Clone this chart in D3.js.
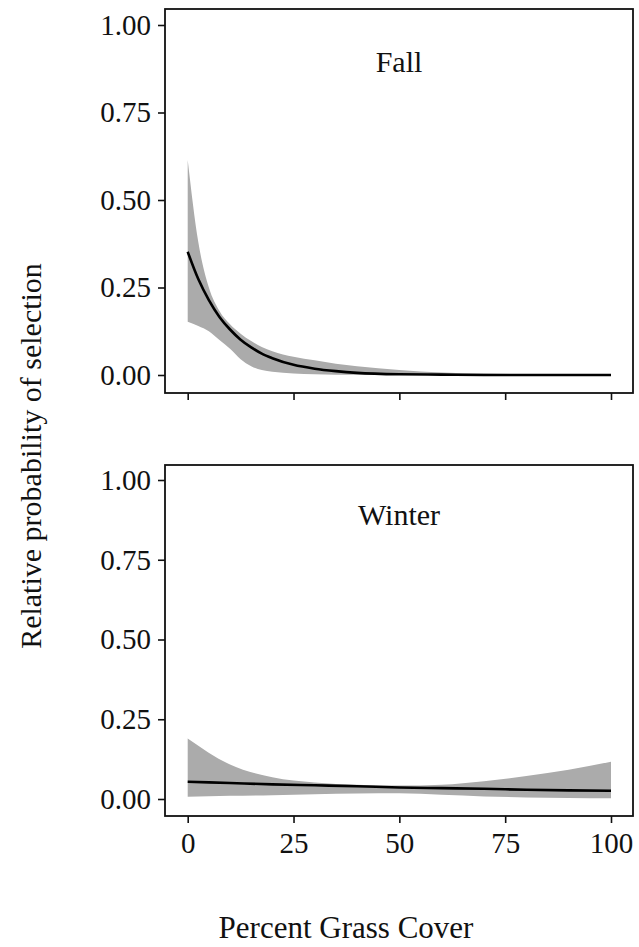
<!DOCTYPE html>
<html>
<head>
<meta charset="utf-8">
<script src="https://cdn.jsdelivr.net/npm/d3@7"></script>
<style>
  body { margin: 0; background: #fff; }
  svg { display: block; font-family: "Liberation Serif", "Times New Roman", serif; }
</style>
</head>
<body>
<div id="visualization"></div>
<script>
// Fall: fitted relative probability and 95% band vs percent grass cover
var fallGrass = [0, 2.5, 5, 7.5, 10, 12.5, 15, 17.5, 20, 25, 30, 35, 40, 50, 60, 70, 80, 90, 100];
var fallFit   = [0.352, 0.274, 0.214, 0.166, 0.130, 0.101, 0.079, 0.061, 0.048, 0.029, 0.018, 0.011, 0.006, 0.002, 0.001, 0, 0, 0, 0];
var fallUpper = [0.614, 0.380, 0.250, 0.183, 0.145, 0.118, 0.097, 0.080, 0.068, 0.052, 0.042, 0.032, 0.025, 0.014, 0.007, 0.004, 0.002, 0.001, 0];
var fallLower = [0.152, 0.140, 0.125, 0.100, 0.075, 0.045, 0.025, 0.014, 0.009, 0.004, 0.002, 0.001, 0.001, 0, 0, 0, 0, 0, 0];

// Winter
var winterGrass = [0, 10, 20, 30, 40, 50, 60, 70, 80, 90, 100];
var winterFit   = [0.054, 0.050, 0.046, 0.043, 0.040, 0.036, 0.034, 0.032, 0.029, 0.027, 0.026];
var winterUpper = [0.190, 0.108, 0.068, 0.052, 0.045, 0.042, 0.045, 0.056, 0.072, 0.092, 0.117];
var winterLower = [0.007, 0.010, 0.012, 0.015, 0.017, 0.018, 0.013, 0.008, 0.005, 0.003, 0.002];

var xTicks = [0, 25, 50, 75, 100];
var yTicks = [0, 0.25, 0.5, 0.75, 1];

var width = 639;
var height = 947;

var svg = d3.select('#visualization').append('svg')
  .attr('width', width)
  .attr('height', height);

svg.append('rect').attr('width', width).attr('height', height).attr('fill', '#fff');

var x = d3.scaleLinear().domain([0, 100]).range([187.7, 611]);

var panels = [
  { title: 'Fall', grass: fallGrass, fit: fallFit, upper: fallUpper, lower: fallLower,
    box: [9, 393], yRange: [375, 25], titleY: 72, labels: false },
  { title: 'Winter', grass: winterGrass, fit: winterFit, upper: winterUpper, lower: winterLower,
    box: [465, 816], yRange: [799, 480], titleY: 525, labels: true }
];

panels.forEach(function(p) {
  var y = d3.scaleLinear().domain([0, 1]).range(p.yRange);
  var g = svg.append('g');

  var rows = p.grass.map(function(v, i) {
    return { x: v, fit: p.fit[i], hi: p.upper[i], lo: p.lower[i] };
  });

  var band = d3.area()
    .x(function(d) { return x(d.x); })
    .y0(function(d) { return y(d.lo); })
    .y1(function(d) { return y(d.hi); })
    .curve(d3.curveMonotoneX);

  var line = d3.line()
    .x(function(d) { return x(d.x); })
    .y(function(d) { return y(d.fit); })
    .curve(d3.curveMonotoneX);

  g.append('path').datum(rows)
    .attr('d', band)
    .attr('fill', '#ababab');

  g.append('path').datum(rows)
    .attr('d', line)
    .attr('fill', 'none')
    .attr('stroke', '#000')
    .attr('stroke-width', 2.6);

  // panel border
  g.append('rect')
    .attr('x', 165).attr('y', p.box[0])
    .attr('width', 633 - 165).attr('height', p.box[1] - p.box[0])
    .attr('fill', 'none')
    .attr('stroke', '#111')
    .attr('stroke-width', 1.8);

  var yAxis = g.append('g')
    .attr('transform', 'translate(165,0)')
    .call(d3.axisLeft(y).tickValues(yTicks).tickFormat(d3.format('.2f')).tickSize(7).tickPadding(7));

  var xAxis = g.append('g')
    .attr('transform', 'translate(0,' + p.box[1] + ')')
    .call(d3.axisBottom(x).tickValues(xTicks).tickSize(7).tickPadding(9)
      .tickFormat(p.labels ? d3.format('d') : function() { return ''; }));

  [yAxis, xAxis].forEach(function(a) {
    a.select('.domain').remove();
    a.selectAll('line').attr('stroke', '#111').attr('stroke-width', 1.6);
    a.selectAll('text')
      .attr('fill', '#111')
      .style('font-family', '"Liberation Serif", serif')
      .style('font-size', '29px');
  });

  g.append('text')
    .attr('x', 399).attr('y', p.titleY)
    .attr('text-anchor', 'middle')
    .attr('fill', '#111')
    .style('font-size', '30px')
    .text(p.title);
});

svg.append('text')
  .attr('x', 346).attr('y', 938)
  .attr('text-anchor', 'middle')
  .attr('fill', '#111')
  .style('font-size', '31px')
  .text('Percent Grass Cover');

svg.append('text')
  .attr('transform', 'translate(41,456) rotate(-90)')
  .attr('text-anchor', 'middle')
  .attr('fill', '#111')
  .style('font-size', '30px')
  .text('Relative probability of selection');
</script>
</body>
</html>
